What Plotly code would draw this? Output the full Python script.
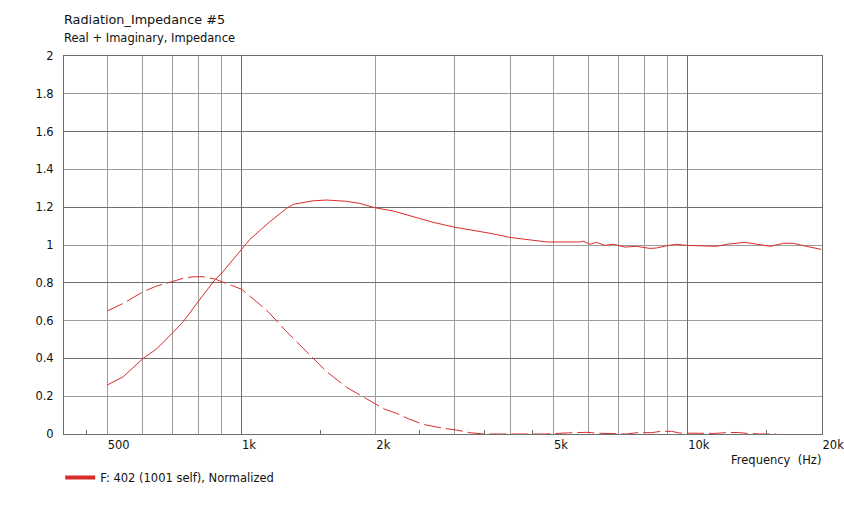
import plotly.graph_objects as go
import math

# ---- data ----
freq_real = [500, 543, 602, 645, 699, 740, 799, 871, 902, 1000, 1044, 1157, 1262, 1306,
             1447, 1551, 1719, 1842, 1991, 2187, 2467, 2689, 3003, 3364, 3607, 4000,
             4438, 4836, 5740, 5836, 6043, 6250, 6523, 6816, 7226, 7676, 8220, 8511,
             8967, 9436, 9938, 11620, 12250, 13450, 14300, 15330, 16380, 17270, 18440, 19920]
real_part = [0.259, 0.303, 0.400, 0.450, 0.533, 0.594, 0.700, 0.815, 0.850, 0.977, 1.030,
             1.123, 1.194, 1.215, 1.234, 1.238, 1.231, 1.220, 1.197, 1.180, 1.146, 1.120,
             1.094, 1.076, 1.062, 1.040, 1.026, 1.016, 1.016, 1.020, 1.004, 1.014, 0.998,
             1.004, 0.989, 0.993, 0.982, 0.984, 0.996, 1.004, 0.998, 0.993, 1.004, 1.014,
             1.004, 0.993, 1.009, 1.009, 0.993, 0.977]

freq_imag = [500, 543, 602, 645, 699, 740, 779, 820, 871, 926, 1000, 1081, 1147, 1262,
             1339, 1447, 1551, 1719, 1858, 1991, 2095, 2226, 2363, 2553, 2832, 3033,
             3248, 3480, 4000, 4800, 5400, 5950, 6300, 6800, 7300, 7700, 8300, 8700,
             9200, 9600, 10500, 11500, 12300, 13000, 13600, 14500, 15800]
imag_part = [0.651, 0.691, 0.753, 0.783, 0.806, 0.824, 0.832, 0.832, 0.820, 0.797, 0.766,
             0.700, 0.647, 0.541, 0.480, 0.400, 0.330, 0.247, 0.201, 0.159, 0.131, 0.109,
             0.081, 0.051, 0.030, 0.021, 0.007, 0.000, 0.000, 0.000, 0.006, 0.009, 0.004,
             0.000, 0.000, 0.007, 0.007, 0.014, 0.014, 0.005, 0.003, 0.003, 0.008, 0.008,
             0.003, 0.000, 0.000]

x_tickvals = [500, 600, 700, 800, 900, 1000, 2000, 3000, 4000, 5000, 6000, 7000, 8000,
              9000, 10000, 20000]
x_ticktext = ["500", "", "", "", "", "1k", "2k", "", "", "5k", "", "", "", "", "10k", "20k"]
x_minor_ticks = [450, 1500, 2500, 3500, 4500, 15000]
x_major_grid = [1000, 10000]
y_tickvals = [0, 0.2, 0.4, 0.6, 0.8, 1, 1.2, 1.4, 1.6, 1.8, 2]
y_ticktext = ["0", "0.2", "0.4", "0.6", "0.8", "1", "1.2", "1.4", "1.6", "1.8", "2"]
y_major_grid = [0.4, 0.8, 1.2, 1.6]

title_text = "Radiation_Impedance #5"
subtitle_text = "Real + Imaginary, Impedance"
legend_text = "F: 402 (1001 self), Normalized"
x_title = "Frequency\u00a0\u00a0(Hz)"

RED = "#d82c2c"
FONT = "DejaVu Sans"
FS = 11.5
TXT = "#111111"
LIGHT = "#9c9c9c"
DARK = "#6e6e6e"
xrange = [math.log10(400), math.log10(20000)]
yrange = [0, 2]

fig = go.Figure()
fig.add_trace(go.Scatter(x=freq_real, y=real_part, mode="lines",
                         line=dict(color=RED, width=1), showlegend=False,
                         hoverinfo="skip"))
fig.add_trace(go.Scatter(x=freq_imag, y=imag_part, mode="lines",
                         line=dict(color=RED, width=1, dash="17px,5px"),
                         showlegend=False, hoverinfo="skip"))
# legend entry (thick swatch)
fig.add_trace(go.Scatter(x=[None], y=[None], mode="lines", xaxis="x2", yaxis="y2",
                         line=dict(color=RED, width=4), name=legend_text,
                         showlegend=True))

fig.update_layout(
    width=844, height=510,
    margin=dict(l=64, r=22, t=56, b=76, autoexpand=False),
    paper_bgcolor="white", plot_bgcolor="white",
    font=dict(family=FONT, size=FS, color=TXT),
    xaxis=dict(type="log", range=xrange, tickvals=x_tickvals, ticktext=x_ticktext,
               showgrid=True, gridcolor=LIGHT, gridwidth=1, automargin=False,
               showline=True, linecolor=DARK, linewidth=1, mirror=True,
               ticks="", ticklabelposition="outside right", ticklabeloverflow="allow",
               tickfont=dict(family=FONT, size=FS, color=TXT),
               minor=dict(tickvals=x_minor_ticks, ticks="inside", ticklen=4,
                          tickcolor=DARK, showgrid=False),
               zeroline=False, fixedrange=True),
    yaxis=dict(range=yrange, tickvals=y_tickvals, ticktext=y_ticktext,
               showgrid=True, gridcolor=LIGHT, gridwidth=1, automargin=False,
               showline=True, linecolor=DARK, linewidth=1, mirror=True,
               ticks="", ticklabelstandoff=7,
               tickfont=dict(family=FONT, size=FS, color=TXT),
               zeroline=False, fixedrange=True),
    xaxis2=dict(type="log", range=xrange, overlaying="x", anchor="y2",
                tickvals=x_major_grid, showticklabels=False, ticks="",
                showgrid=True, gridcolor=DARK, gridwidth=1, zeroline=False,
                showline=False, fixedrange=True, automargin=False),
    yaxis2=dict(range=yrange, overlaying="y", anchor="x2",
                tickvals=y_major_grid, showticklabels=False, ticks="",
                showgrid=True, gridcolor=DARK, gridwidth=1, zeroline=False,
                showline=False, fixedrange=True, automargin=False),
    showlegend=True,
    legend=dict(x=-0.005, xanchor="left", yref="container", y=0.092, yanchor="top",
                orientation="h", bgcolor="rgba(0,0,0,0)",
                font=dict(family=FONT, size=FS, color=TXT),
                itemwidth=30),
    annotations=[
        dict(text=title_text, xref="paper", yref="paper", x=0, y=1,
             xanchor="left", yanchor="bottom", yshift=27, xshift=-2, showarrow=False,
             font=dict(family=FONT, size=12.8, color=TXT)),
        dict(text=subtitle_text, xref="paper", yref="paper", x=0, y=1,
             xanchor="left", yanchor="bottom", yshift=9, xshift=-2, showarrow=False,
             font=dict(family=FONT, size=FS, color=TXT)),
        dict(text=x_title, xref="paper", yref="paper", x=1, y=0,
             xanchor="right", yanchor="top", yshift=-17, xshift=1, showarrow=False,
             font=dict(family=FONT, size=FS, color=TXT)),
    ],
)

fig.write_html("out.html",
               config={"displayModeBar": False, "staticPlot": True},
               post_script="document.body.style.margin='0px';"
                           "document.body.style.overflow='hidden';")
